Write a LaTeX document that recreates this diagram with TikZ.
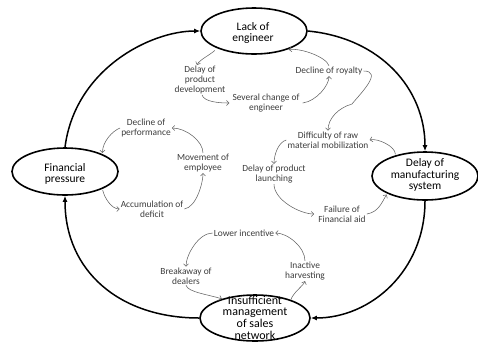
\documentclass[tikz,border=0pt]{standalone}
\usepackage{fontspec}
\setmainfont{Carlito}
\usetikzlibrary{shapes.geometric,arrows.meta}
\definecolor{labtxt}{RGB}{60,60,60}
\definecolor{arrgray}{RGB}{100,100,100}
\tikzset{
  bigell/.style={draw=black,line width=1.6pt,ellipse,inner sep=0pt,minimum width=106pt,minimum height=46pt},
  elltxt/.style={align=center,font=\fontsize{11.5}{11.8}\selectfont,text=black,inner sep=0pt},
  lab/.style={align=center,font=\fontsize{9.4}{9.7}\selectfont,text=labtxt,inner sep=1pt},
  bigarr/.style={line width=1.5pt,-{Latex[length=6pt,width=5pt]}},
  sarr/.style={draw=arrgray,line width=0.55pt,-{Straight Barb[length=2.5pt,width=5pt]}}
}
\begin{document}
\begin{tikzpicture}[x=1pt,y=-1pt]
\useasboundingbox (0,0) rectangle (478,341);
% big ellipses
\node[bigell] (top) at (254,31) {};
\node[bigell,minimum height=47pt] (left) at (65,171.5) {};
\node[bigell,minimum height=48pt] (right) at (425,176) {};
\node[bigell,minimum width=110pt] (bottom) at (255,318) {};
\node[elltxt] (ttop) at (253,33) {Lack of\\engineer};
\node[elltxt] (tleft) at (65,174) {Financial\\pressure};
\node[elltxt] (tright) at (425,175) {Delay of\\manufacturing\\system};
\node[elltxt,font=\fontsize{12}{11.6}\selectfont] (tbottom) at (255,317.5) {Insufficient\\management\\of sales\\network};
% big arrows
\draw[bigarr] (left.90) .. controls +(10,-78) and +(-50,0) .. (top.180);
\draw[bigarr] (top.0) .. controls +(73,7) and +(0,-62) .. (right.90);
\draw[bigarr] (right.-90) .. controls +(0,70) and +(60,0) .. (bottom.0);
\draw[bigarr] (bottom.180) .. controls +(-80,0) and +(0,75) .. (left.-90);
% labels
\node[lab] (dpd) at (200,80) {Delay of\\product\\development};
\node[lab] (sce) at (266,103) {Several change of\\engineer};
\node[lab] (dor) at (329,71) {Decline of royalty};
\node[lab] (drm) at (328,140) {Difficulty of raw\\material mobilization};
\node[lab] (dpl) at (274,174) {Delay of product\\launching};
\node[lab] (ffa) at (342,214) {Failure of\\Financial aid};
\node[lab] (dop) at (146,128) {Decline of\\performance};
\node[lab] (moe) at (203,163) {Movement of\\employee};
\node[lab] (aod) at (152,209) {Accumulation of\\deficit};
\node[lab] (li) at (244,233) {Lower incentive};
\node[lab] (bod) at (186,276) {Breakaway of\\dealers};
\node[lab] (ih) at (305,271) {Inactive\\harvesting};
% small arrows
\draw[sarr,shorten <=3pt] (top.205) .. controls +(-6,6) and +(2,-5) .. ([xshift=-3pt]dpd.north);
\draw[sarr] ([xshift=2pt]dpd.south) .. controls +(2,7) and +(-10,0) .. ([xshift=-2pt]sce.west);
\draw[sarr] ([xshift=2pt]sce.east) .. controls +(14,-2) and +(0,9) .. (dor.south);
\draw[sarr,shorten >=2pt] (dor.north) .. controls +(-3,-9) and +(14,-2) .. (top.330);
\draw[sarr] (dor.east) .. controls +(20,0) and +(8,-10) .. (352,104) .. controls +(-14,4) and +(0,-12) .. (drm.north);
\draw[sarr,shorten <=1pt] (right.145) .. controls +(0,-9) and +(8,-2) .. (drm.east);
\draw[sarr] (drm.west) .. controls +(-8,2) and +(0,-9) .. (dpl.north);
\draw[sarr] (dpl.south) .. controls +(0,16) and +(-14,0) .. ([xshift=-3pt]ffa.west);
\draw[sarr,shorten >=1pt] (ffa.east) .. controls +(12,-2) and +(-5,8) .. (right.205);
\draw[sarr,shorten >=1pt] (dop.west) .. controls +(-8,3) and +(0,-12) .. (left.25);
\draw[sarr,shorten <=1pt] (left.-25) .. controls +(2,9) and +(-8,0) .. (aod.west);
\draw[sarr] (aod.east) .. controls +(12,-2) and +(0,10) .. (moe.south);
\draw[sarr] (moe.north) .. controls +(0,-12) and +(14,0) .. (dop.east);
\draw[sarr] (li.west) .. controls +(-14,0) and +(0,-12) .. (bod.north);
\draw[sarr] (bod.south) .. controls +(2,7) and +(-12,-4) .. (bottom.150);
\draw[sarr] (bottom.27) .. controls +(3,-8) and +(-2,5) .. (ih.south);
\draw[sarr] (ih.north) .. controls +(0,-14) and +(12,0) .. (li.east);
\end{tikzpicture}
\end{document}
